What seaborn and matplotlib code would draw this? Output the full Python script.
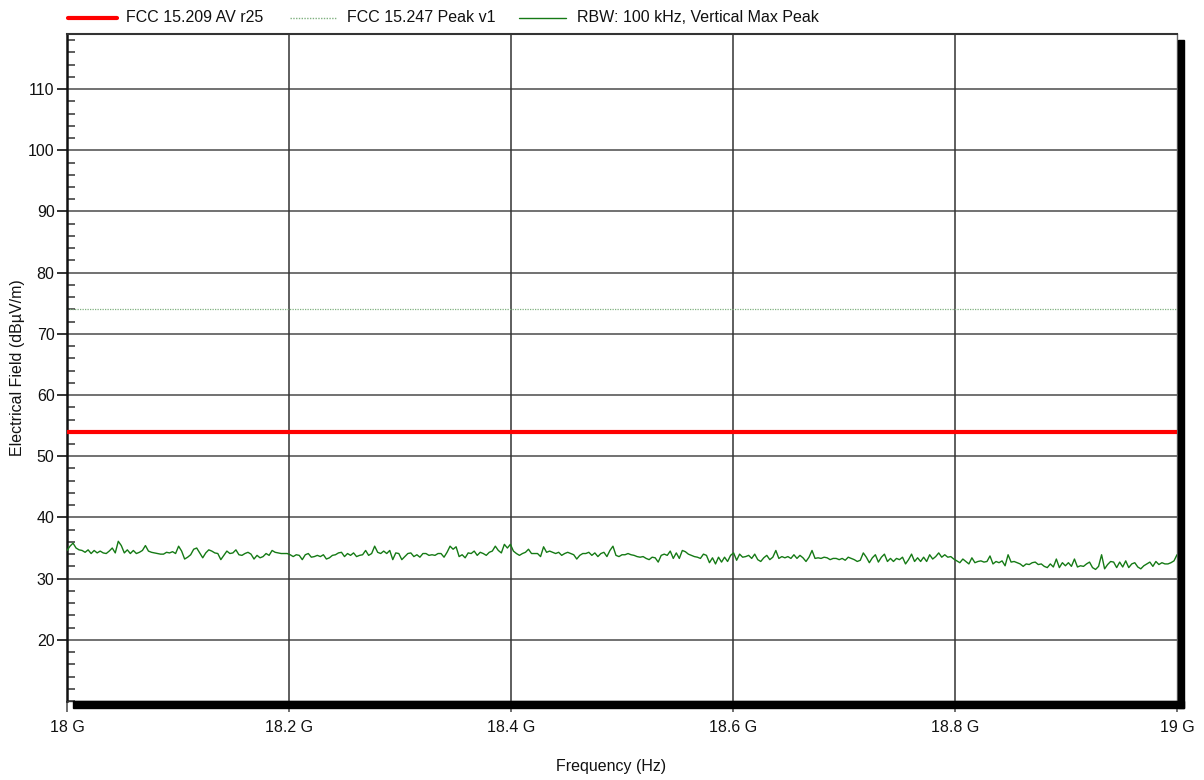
import numpy as np
import pandas as pd
import matplotlib
matplotlib.use("Agg")
import matplotlib.pyplot as plt
from matplotlib.patches import Rectangle
from matplotlib.lines import Line2D
from matplotlib.ticker import FixedLocator, MultipleLocator
import seaborn as sns

# ---------------- data ----------------
f_start_hz = 18.0e9
f_stop_hz = 19.0e9

trace_db = [
    34.6,35.3,35.8,35.0,34.7,34.6,34.3,34.7,34.1,34.6,34.2,34.5,34.2,34.1,34.5,35.0,34.2,36.1,35.4,34.2,
    34.7,34.1,34.6,34.1,34.3,34.6,35.4,34.5,34.3,34.2,34.1,34.0,34.0,34.3,34.2,34.4,34.1,35.3,34.5,33.2,
    33.5,33.9,34.8,35.0,34.2,33.4,34.2,34.7,34.5,34.2,34.1,33.1,33.8,34.5,34.1,34.2,34.7,33.9,33.8,34.1,
    34.3,34.0,33.2,33.8,33.4,33.6,34.1,33.8,34.6,34.3,34.2,34.1,34.1,34.1,33.9,33.6,33.9,33.8,33.1,33.9,
    34.1,33.5,33.6,33.8,33.6,33.9,33.2,33.4,33.8,33.9,34.2,34.3,33.6,
    34.1,33.8,34.2,33.6,33.8,33.9,34.6,33.8,34.1,35.3,34.3,34.1,34.5,34.1,34.6,33.1,34.2,34.1,33.1,33.6,
    34.1,34.2,33.6,33.9,33.5,34.1,34.1,33.8,33.9,33.8,34.1,34.1,33.5,34.3,35.3,34.8,35.2,33.6,33.9,33.4,
    34.2,34.1,34.5,33.8,34.3,34.1,33.8,34.3,34.5,35.3,34.6,34.2,35.6,35.0,35.6,34.5,34.1,33.8,34.1,34.3,
    34.8,34.1,34.1,34.1,33.6,35.2,34.3,34.5,34.3,34.1,34.3,33.8,34.1,34.3,34.1,33.9,33.2,33.8,34.1,34.1,
    34.3,33.8,34.2,33.6,34.1,34.3,33.6,34.6,35.3,33.8,33.6,33.9,33.9,34.1,33.9,33.8,
    33.6,33.5,33.6,33.3,33.1,33.5,33.4,32.7,33.8,34.0,33.8,34.5,33.3,34.2,33.3,34.6,34.4,34.0,33.8,33.6,
    33.5,33.3,34.0,33.8,32.6,33.4,32.4,33.5,32.7,33.5,32.8,33.8,34.2,33.0,34.0,33.5,33.6,33.8,33.3,34.0,
    33.1,32.8,33.4,33.8,33.1,33.5,34.6,33.3,33.6,33.4,33.6,33.3,33.9,33.3,33.8,33.4,32.8,33.5,34.6,33.3,
    33.4,33.3,33.5,33.4,33.1,33.3,33.3,33.1,33.3,33.0,33.5,33.3,33.1,32.8,33.0,34.2,33.5,32.6,33.4,33.9,
    32.7,33.5,34.0,32.8,33.3,32.8,33.3,33.1,33.5,32.4,33.1,34.0,32.8,
    33.4,32.8,33.5,32.8,33.9,33.2,33.6,34.2,33.5,33.9,33.5,33.6,33.2,32.9,32.6,33.2,32.8,32.4,33.4,32.6,
    32.8,32.9,32.7,32.8,33.7,32.4,32.8,32.6,32.9,32.1,33.9,32.7,32.8,32.6,32.4,32.0,32.4,32.3,32.6,32.7,
    32.3,32.4,32.0,31.8,32.4,31.9,33.2,31.8,32.6,32.1,32.6,32.0,33.2,31.9,32.1,32.0,32.4,32.7,31.8,31.5,
    32.0,33.9,31.6,32.3,32.8,32.7,31.8,32.7,31.9,32.9,31.8,32.4,32.6,31.9,31.6,32.1,32.4,32.7,32.0,32.8,
    32.3,32.6,32.4,32.4,32.6,32.9,33.9,
]

limit_av_db = 54.0     # FCC 15.209 AV r25
limit_peak_db = 74.0   # FCC 15.247 Peak v1

legend_labels = ["FCC 15.209 AV r25", "FCC 15.247 Peak v1", "RBW: 100 kHz, Vertical Max Peak"]

x_ticks_hz = [18.0e9, 18.2e9, 18.4e9, 18.6e9, 18.8e9, 19.0e9]
x_tick_labels = ["18 G", "18.2 G", "18.4 G", "18.6 G", "18.8 G", "19 G"]
y_ticks = [20, 30, 40, 50, 60, 70, 80, 90, 100, 110]

x_label = "Frequency (Hz)"
y_label = "Electrical Field (dBµV/m)"

# ---------------- styling ----------------
sns.set_theme(style="white")
plt.rcParams["font.family"] = ["Liberation Sans", "DejaVu Sans"]

W, H = 1204, 780
fig = plt.figure(figsize=(W / 100, H / 100), dpi=100)
ax_l, ax_r, ax_t, ax_b = 67, 1177, 34, 701
ax = fig.add_axes([ax_l / W, 1 - ax_b / H, (ax_r - ax_l) / W, (ax_b - ax_t) / H])
ax.set_facecolor("white")

freqs = np.linspace(f_start_hz, f_stop_hz, len(trace_db))
df = pd.DataFrame({"freq": freqs, "level": trace_db})

c_red = "#ff0000"
c_dot = "#7fb07f"
c_trace = "#157a15"

# grid
for yt in y_ticks:
    ax.axhline(yt, color="#4a4a4a", lw=1.1, zorder=1)
for xt in x_ticks_hz[1:-1]:
    ax.axvline(xt, color="#333333", lw=1.1, zorder=1)

ax.axhline(limit_peak_db, color=c_dot, lw=0.9, ls=(0, (1, 1)), zorder=2)
ax.axhline(limit_av_db, color=c_red, lw=3.0, zorder=3)
sns.lineplot(data=df, x="freq", y="level", ax=ax, color=c_trace, lw=1.0, zorder=4, legend=False)

ax.set_xlim(f_start_hz, f_stop_hz)
ax.set_ylim(10, 119)

ax.xaxis.set_major_locator(FixedLocator(x_ticks_hz))
ax.set_xticklabels(x_tick_labels)
ax.yaxis.set_major_locator(FixedLocator(y_ticks))
ax.set_yticklabels([str(v) for v in y_ticks])
ax.yaxis.set_minor_locator(MultipleLocator(2))

ax.tick_params(axis="x", which="major", direction="out", length=8, width=1.2, color="#555555",
               labelsize=11.5, pad=6, labelcolor="#111111", bottom=True)
ax.tick_params(axis="y", which="major", direction="out", length=7, width=1.2, color="#111111",
               labelsize=11.5, pad=2, labelcolor="#111111", left=True)
ax.tick_params(axis="y", which="minor", direction="in", length=6, width=1.1, color="#333333", left=True)

for side in ["left", "top", "right", "bottom"]:
    ax.spines[side].set_visible(True)
ax.spines["left"].set_color("#111111"); ax.spines["left"].set_linewidth(1.8)
ax.spines["top"].set_color("#333333"); ax.spines["top"].set_linewidth(1.5)
ax.spines["right"].set_color("#666666"); ax.spines["right"].set_linewidth(1.0)
ax.spines["bottom"].set_color("#333333"); ax.spines["bottom"].set_linewidth(1.0)

ax.set_xlabel("")
ax.set_ylabel("")
fig.text(611 / W, 1 - 767 / H, x_label, ha="center", va="center", fontsize=11.5, color="#111111")
fig.text(18 / W, 1 - 368 / H, y_label, ha="center", va="center", rotation=90, fontsize=11.5, color="#111111")

# shadow bars (right and bottom)
fig.add_artist(Rectangle((1177.5 / W, 1 - 708 / H), 6.5 / W, (708 - 40) / H,
                         transform=fig.transFigure, color="black", zorder=5))
fig.add_artist(Rectangle((73 / W, 1 - 708 / H), (1184 - 73) / W, 7 / H,
                         transform=fig.transFigure, color="black", zorder=5))

# legend row
ly = 1 - 18 / H
leg = [((68, 117), c_red, 3.0, "-", 126),
       ((290, 336), c_dot, 1.0, (0, (1, 1)), 347),
       ((519, 566), c_trace, 1.0, "-", 577)]
for (x0, x1), col, lw, ls, tx in leg:
    fig.add_artist(Line2D([x0 / W, x1 / W], [ly, ly], transform=fig.transFigure,
                          color=col, lw=lw, ls=ls))
for (seg, col, lw, ls, tx), lab in zip(leg, legend_labels):
    fig.text(tx / W, ly, lab, ha="left", va="center", fontsize=11.5, color="#111111")

fig.savefig("out.png", dpi=100)
